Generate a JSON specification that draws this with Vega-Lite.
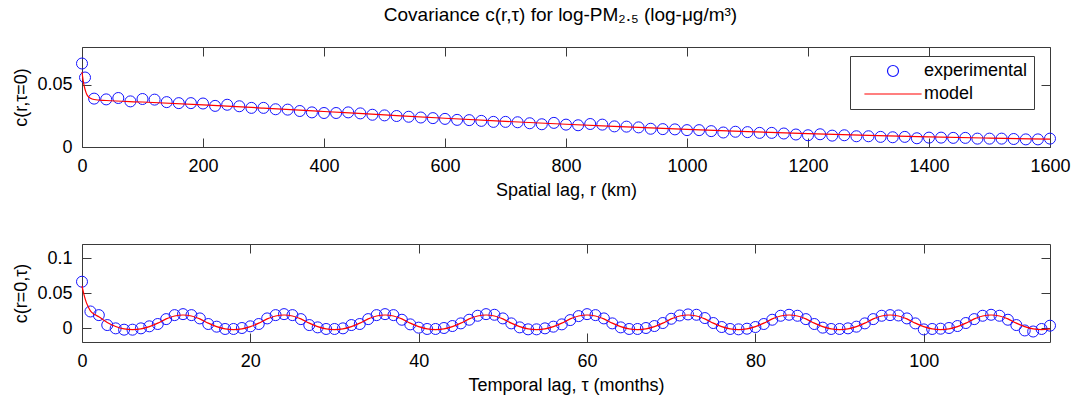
{
  "$schema": "https://vega.github.io/schema/vega-lite/v6.json",
  "padding": {"left": 12, "top": 6, "right": 20, "bottom": 5},
  "background": "white",
  "config": {
    "font": "Liberation Sans",
    "view": {"stroke": "#3a3a3a", "strokeWidth": 1},
    "axis": {"grid": false, "domain": false, "labelFlush": false, "tickColor": "#3a3a3a", "tickSize": -9, "labelFontSize": 18, "labelColor": "black", "titleFontSize": 18, "titleFontWeight": "normal", "titleColor": "black", "labelPadding": 19, "titlePadding": 6, "labelFont": "Liberation Sans", "titleFont": "Liberation Sans"},
    "legend": {"orient": "none", "legendX": 768, "legendY": 11, "strokeColor": "#3a3a3a", "fillColor": "white", "padding": 6, "symbolOffset": 28, "labelOffset": 22, "labelFontSize": 18, "labelFont": "Liberation Sans", "labelColor": "black", "rowPadding": 5, "symbolSize": 121, "symbolStrokeWidth": 1.2},
    "title": {"fontSize": 19, "fontWeight": "normal", "anchor": "middle", "offset": 21, "font": "Liberation Sans", "color": "black", "dx": 19},
    "concat": {"spacing": 43}
  },
  "title": "Covariance c(r,τ) for log-PM₂.₅ (log-μg/m³)",
  "datasets": {
    "spatial_experimental": [
      {"lag": 0, "cov": 0.0668, "series": "experimental"}, {"lag": 5, "cov": 0.0556, "series": "experimental"},
      {"lag": 20, "cov": 0.0387, "series": "experimental"}, {"lag": 40, "cov": 0.0381, "series": "experimental"},
      {"lag": 60, "cov": 0.0392, "series": "experimental"}, {"lag": 80, "cov": 0.0365, "series": "experimental"},
      {"lag": 100, "cov": 0.0384, "series": "experimental"}, {"lag": 120, "cov": 0.0379, "series": "experimental"},
      {"lag": 140, "cov": 0.0359, "series": "experimental"}, {"lag": 160, "cov": 0.0351, "series": "experimental"},
      {"lag": 180, "cov": 0.0351, "series": "experimental"}, {"lag": 200, "cov": 0.0348, "series": "experimental"},
      {"lag": 220, "cov": 0.0329, "series": "experimental"}, {"lag": 240, "cov": 0.0338, "series": "experimental"},
      {"lag": 260, "cov": 0.0326, "series": "experimental"}, {"lag": 280, "cov": 0.0313, "series": "experimental"},
      {"lag": 300, "cov": 0.0313, "series": "experimental"}, {"lag": 320, "cov": 0.0302, "series": "experimental"},
      {"lag": 340, "cov": 0.0299, "series": "experimental"}, {"lag": 360, "cov": 0.0288, "series": "experimental"},
      {"lag": 380, "cov": 0.0277, "series": "experimental"}, {"lag": 400, "cov": 0.0272, "series": "experimental"},
      {"lag": 420, "cov": 0.0272, "series": "experimental"}, {"lag": 440, "cov": 0.0277, "series": "experimental"},
      {"lag": 460, "cov": 0.0269, "series": "experimental"}, {"lag": 480, "cov": 0.0258, "series": "experimental"},
      {"lag": 500, "cov": 0.0253, "series": "experimental"}, {"lag": 520, "cov": 0.0248, "series": "experimental"},
      {"lag": 540, "cov": 0.0242, "series": "experimental"}, {"lag": 560, "cov": 0.0236, "series": "experimental"},
      {"lag": 580, "cov": 0.0231, "series": "experimental"}, {"lag": 600, "cov": 0.0225, "series": "experimental"},
      {"lag": 620, "cov": 0.0217, "series": "experimental"}, {"lag": 640, "cov": 0.0215, "series": "experimental"},
      {"lag": 660, "cov": 0.0209, "series": "experimental"}, {"lag": 680, "cov": 0.0201, "series": "experimental"},
      {"lag": 700, "cov": 0.0201, "series": "experimental"}, {"lag": 720, "cov": 0.0198, "series": "experimental"},
      {"lag": 740, "cov": 0.0190, "series": "experimental"}, {"lag": 760, "cov": 0.0182, "series": "experimental"},
      {"lag": 780, "cov": 0.0193, "series": "experimental"}, {"lag": 800, "cov": 0.0179, "series": "experimental"},
      {"lag": 820, "cov": 0.0174, "series": "experimental"}, {"lag": 840, "cov": 0.0184, "series": "experimental"},
      {"lag": 860, "cov": 0.0179, "series": "experimental"}, {"lag": 880, "cov": 0.0165, "series": "experimental"},
      {"lag": 900, "cov": 0.0163, "series": "experimental"}, {"lag": 920, "cov": 0.0157, "series": "experimental"},
      {"lag": 940, "cov": 0.0146, "series": "experimental"}, {"lag": 960, "cov": 0.0143, "series": "experimental"},
      {"lag": 980, "cov": 0.0141, "series": "experimental"}, {"lag": 1000, "cov": 0.0135, "series": "experimental"},
      {"lag": 1020, "cov": 0.0135, "series": "experimental"}, {"lag": 1040, "cov": 0.0127, "series": "experimental"},
      {"lag": 1060, "cov": 0.0116, "series": "experimental"}, {"lag": 1080, "cov": 0.0122, "series": "experimental"},
      {"lag": 1100, "cov": 0.0119, "series": "experimental"}, {"lag": 1120, "cov": 0.0113, "series": "experimental"},
      {"lag": 1140, "cov": 0.0113, "series": "experimental"}, {"lag": 1160, "cov": 0.0108, "series": "experimental"},
      {"lag": 1180, "cov": 0.0100, "series": "experimental"}, {"lag": 1200, "cov": 0.0094, "series": "experimental"},
      {"lag": 1220, "cov": 0.0102, "series": "experimental"}, {"lag": 1240, "cov": 0.0091, "series": "experimental"},
      {"lag": 1260, "cov": 0.0094, "series": "experimental"}, {"lag": 1280, "cov": 0.0086, "series": "experimental"},
      {"lag": 1300, "cov": 0.0086, "series": "experimental"}, {"lag": 1320, "cov": 0.0081, "series": "experimental"},
      {"lag": 1340, "cov": 0.0078, "series": "experimental"}, {"lag": 1360, "cov": 0.0081, "series": "experimental"},
      {"lag": 1380, "cov": 0.0070, "series": "experimental"}, {"lag": 1400, "cov": 0.0075, "series": "experimental"},
      {"lag": 1420, "cov": 0.0075, "series": "experimental"}, {"lag": 1440, "cov": 0.0073, "series": "experimental"},
      {"lag": 1460, "cov": 0.0073, "series": "experimental"}, {"lag": 1480, "cov": 0.0067, "series": "experimental"},
      {"lag": 1500, "cov": 0.0067, "series": "experimental"}, {"lag": 1520, "cov": 0.0067, "series": "experimental"},
      {"lag": 1540, "cov": 0.0064, "series": "experimental"}, {"lag": 1560, "cov": 0.0061, "series": "experimental"},
      {"lag": 1580, "cov": 0.0061, "series": "experimental"}, {"lag": 1600, "cov": 0.0067, "series": "experimental"}
    ],
    "spatial_model": [
      {"lag": 0, "cov": 0.060, "series": "model"}, {"lag": 2, "cov": 0.053, "series": "model"},
      {"lag": 4, "cov": 0.048, "series": "model"}, {"lag": 6, "cov": 0.0445, "series": "model"},
      {"lag": 8, "cov": 0.042, "series": "model"}, {"lag": 10, "cov": 0.0405, "series": "model"},
      {"lag": 14, "cov": 0.0390, "series": "model"}, {"lag": 20, "cov": 0.0380, "series": "model"},
      {"lag": 40, "cov": 0.0372, "series": "model"}, {"lag": 100, "cov": 0.0360, "series": "model"},
      {"lag": 200, "cov": 0.0337, "series": "model"}, {"lag": 300, "cov": 0.0311, "series": "model"},
      {"lag": 400, "cov": 0.0284, "series": "model"}, {"lag": 500, "cov": 0.0257, "series": "model"},
      {"lag": 600, "cov": 0.0230, "series": "model"}, {"lag": 700, "cov": 0.0205, "series": "model"},
      {"lag": 800, "cov": 0.0182, "series": "model"}, {"lag": 900, "cov": 0.0161, "series": "model"},
      {"lag": 1000, "cov": 0.0141, "series": "model"}, {"lag": 1100, "cov": 0.0123, "series": "model"},
      {"lag": 1200, "cov": 0.0107, "series": "model"}, {"lag": 1300, "cov": 0.0093, "series": "model"},
      {"lag": 1400, "cov": 0.0081, "series": "model"}, {"lag": 1500, "cov": 0.0071, "series": "model"},
      {"lag": 1600, "cov": 0.0063, "series": "model"}
    ],
    "temporal_experimental": [
      {"lag": 0, "cov": 0.0661, "series": "experimental"}, {"lag": 1, "cov": 0.0236, "series": "experimental"},
      {"lag": 2, "cov": 0.0184, "series": "experimental"}, {"lag": 3, "cov": 0.0042, "series": "experimental"},
      {"lag": 4, "cov": -0.0005, "series": "experimental"}, {"lag": 5, "cov": -0.0024, "series": "experimental"},
      {"lag": 6, "cov": -0.0024, "series": "experimental"}, {"lag": 7, "cov": -0.0005, "series": "experimental"},
      {"lag": 8, "cov": 0.0024, "series": "experimental"}, {"lag": 9, "cov": 0.0057, "series": "experimental"},
      {"lag": 10, "cov": 0.0127, "series": "experimental"}, {"lag": 11, "cov": 0.0184, "series": "experimental"},
      {"lag": 12, "cov": 0.0198, "series": "experimental"}, {"lag": 13, "cov": 0.0184, "series": "experimental"},
      {"lag": 14, "cov": 0.0137, "series": "experimental"}, {"lag": 15, "cov": 0.0057, "series": "experimental"},
      {"lag": 16, "cov": 0.0019, "series": "experimental"}, {"lag": 17, "cov": -0.0014, "series": "experimental"},
      {"lag": 18, "cov": -0.0014, "series": "experimental"}, {"lag": 19, "cov": 0.0000, "series": "experimental"},
      {"lag": 20, "cov": 0.0024, "series": "experimental"}, {"lag": 21, "cov": 0.0057, "series": "experimental"},
      {"lag": 22, "cov": 0.0137, "series": "experimental"}, {"lag": 23, "cov": 0.0184, "series": "experimental"},
      {"lag": 24, "cov": 0.0198, "series": "experimental"}, {"lag": 25, "cov": 0.0184, "series": "experimental"},
      {"lag": 26, "cov": 0.0127, "series": "experimental"}, {"lag": 27, "cov": 0.0042, "series": "experimental"},
      {"lag": 28, "cov": 0.0009, "series": "experimental"}, {"lag": 29, "cov": -0.0014, "series": "experimental"},
      {"lag": 30, "cov": -0.0014, "series": "experimental"}, {"lag": 31, "cov": -0.0005, "series": "experimental"},
      {"lag": 32, "cov": 0.0042, "series": "experimental"}, {"lag": 33, "cov": 0.0057, "series": "experimental"},
      {"lag": 34, "cov": 0.0127, "series": "experimental"}, {"lag": 35, "cov": 0.0184, "series": "experimental"},
      {"lag": 36, "cov": 0.0198, "series": "experimental"}, {"lag": 37, "cov": 0.0184, "series": "experimental"},
      {"lag": 38, "cov": 0.0118, "series": "experimental"}, {"lag": 39, "cov": 0.0052, "series": "experimental"},
      {"lag": 40, "cov": 0.0005, "series": "experimental"}, {"lag": 41, "cov": -0.0014, "series": "experimental"},
      {"lag": 42, "cov": -0.0014, "series": "experimental"}, {"lag": 43, "cov": 0.0000, "series": "experimental"},
      {"lag": 44, "cov": 0.0028, "series": "experimental"}, {"lag": 45, "cov": 0.0066, "series": "experimental"},
      {"lag": 46, "cov": 0.0118, "series": "experimental"}, {"lag": 47, "cov": 0.0175, "series": "experimental"},
      {"lag": 48, "cov": 0.0198, "series": "experimental"}, {"lag": 49, "cov": 0.0189, "series": "experimental"},
      {"lag": 50, "cov": 0.0137, "series": "experimental"}, {"lag": 51, "cov": 0.0066, "series": "experimental"},
      {"lag": 52, "cov": 0.0009, "series": "experimental"}, {"lag": 53, "cov": -0.0019, "series": "experimental"},
      {"lag": 54, "cov": -0.0019, "series": "experimental"}, {"lag": 55, "cov": -0.0005, "series": "experimental"},
      {"lag": 56, "cov": 0.0019, "series": "experimental"}, {"lag": 57, "cov": 0.0052, "series": "experimental"},
      {"lag": 58, "cov": 0.0113, "series": "experimental"}, {"lag": 59, "cov": 0.0170, "series": "experimental"},
      {"lag": 60, "cov": 0.0198, "series": "experimental"}, {"lag": 61, "cov": 0.0184, "series": "experimental"},
      {"lag": 62, "cov": 0.0137, "series": "experimental"}, {"lag": 63, "cov": 0.0066, "series": "experimental"},
      {"lag": 64, "cov": 0.0009, "series": "experimental"}, {"lag": 65, "cov": -0.0014, "series": "experimental"},
      {"lag": 66, "cov": -0.0014, "series": "experimental"}, {"lag": 67, "cov": 0.0000, "series": "experimental"},
      {"lag": 68, "cov": 0.0028, "series": "experimental"}, {"lag": 69, "cov": 0.0071, "series": "experimental"},
      {"lag": 70, "cov": 0.0132, "series": "experimental"}, {"lag": 71, "cov": 0.0179, "series": "experimental"},
      {"lag": 72, "cov": 0.0194, "series": "experimental"}, {"lag": 73, "cov": 0.0189, "series": "experimental"},
      {"lag": 74, "cov": 0.0142, "series": "experimental"}, {"lag": 75, "cov": 0.0071, "series": "experimental"},
      {"lag": 76, "cov": 0.0014, "series": "experimental"}, {"lag": 77, "cov": -0.0014, "series": "experimental"},
      {"lag": 78, "cov": -0.0019, "series": "experimental"}, {"lag": 79, "cov": -0.0010, "series": "experimental"},
      {"lag": 80, "cov": 0.0014, "series": "experimental"}, {"lag": 81, "cov": 0.0057, "series": "experimental"},
      {"lag": 82, "cov": 0.0118, "series": "experimental"}, {"lag": 83, "cov": 0.0175, "series": "experimental"},
      {"lag": 84, "cov": 0.0189, "series": "experimental"}, {"lag": 85, "cov": 0.0175, "series": "experimental"},
      {"lag": 86, "cov": 0.0127, "series": "experimental"}, {"lag": 87, "cov": 0.0057, "series": "experimental"},
      {"lag": 88, "cov": 0.0005, "series": "experimental"}, {"lag": 89, "cov": -0.0014, "series": "experimental"},
      {"lag": 90, "cov": -0.0014, "series": "experimental"}, {"lag": 91, "cov": -0.0005, "series": "experimental"},
      {"lag": 92, "cov": 0.0019, "series": "experimental"}, {"lag": 93, "cov": 0.0066, "series": "experimental"},
      {"lag": 94, "cov": 0.0127, "series": "experimental"}, {"lag": 95, "cov": 0.0175, "series": "experimental"},
      {"lag": 96, "cov": 0.0184, "series": "experimental"}, {"lag": 97, "cov": 0.0179, "series": "experimental"},
      {"lag": 98, "cov": 0.0137, "series": "experimental"}, {"lag": 99, "cov": 0.0066, "series": "experimental"},
      {"lag": 100, "cov": -0.0020, "series": "experimental"}, {"lag": 101, "cov": -0.0014, "series": "experimental"},
      {"lag": 102, "cov": -0.0010, "series": "experimental"}, {"lag": 103, "cov": 0.0000, "series": "experimental"},
      {"lag": 104, "cov": 0.0028, "series": "experimental"}, {"lag": 105, "cov": 0.0071, "series": "experimental"},
      {"lag": 106, "cov": 0.0127, "series": "experimental"}, {"lag": 107, "cov": 0.0175, "series": "experimental"},
      {"lag": 108, "cov": 0.0189, "series": "experimental"}, {"lag": 109, "cov": 0.0175, "series": "experimental"},
      {"lag": 110, "cov": 0.0118, "series": "experimental"}, {"lag": 111, "cov": 0.0042, "series": "experimental"},
      {"lag": 112, "cov": -0.0035, "series": "experimental"}, {"lag": 113, "cov": -0.0050, "series": "experimental"},
      {"lag": 114, "cov": -0.0014, "series": "experimental"}, {"lag": 115, "cov": 0.0033, "series": "experimental"}
    ],
    "temporal_model": [
      {"lag": 0, "cov": 0.060, "series": "model"}, {"lag": 0.25, "cov": 0.047, "series": "model"},
      {"lag": 0.5, "cov": 0.037, "series": "model"}, {"lag": 0.75, "cov": 0.030, "series": "model"},
      {"lag": 1, "cov": 0.0245, "series": "model"}, {"lag": 1.5, "cov": 0.0195, "series": "model"},
      {"lag": 2, "cov": 0.0160, "series": "model"}, {"lag": 3, "cov": 0.0080, "series": "model"},
      {"lag": 4, "cov": 0.0022, "series": "model"}, {"lag": 5, "cov": -0.0012, "series": "model"},
      {"lag": 6, "cov": -0.0022, "series": "model"}, {"lag": 7, "cov": -0.0012, "series": "model"},
      {"lag": 8, "cov": 0.0020, "series": "model"}, {"lag": 9, "cov": 0.0070, "series": "model"},
      {"lag": 10, "cov": 0.0130, "series": "model"}, {"lag": 11, "cov": 0.0172, "series": "model"},
      {"lag": 12, "cov": 0.0186, "series": "model"}, {"lag": 13, "cov": 0.0172, "series": "model"},
      {"lag": 14, "cov": 0.0130, "series": "model"}, {"lag": 15, "cov": 0.0070, "series": "model"},
      {"lag": 16, "cov": 0.0020, "series": "model"}, {"lag": 17, "cov": -0.0012, "series": "model"},
      {"lag": 18, "cov": -0.0022, "series": "model"}, {"lag": 19, "cov": -0.0012, "series": "model"},
      {"lag": 20, "cov": 0.0020, "series": "model"}, {"lag": 21, "cov": 0.0070, "series": "model"},
      {"lag": 22, "cov": 0.0130, "series": "model"}, {"lag": 23, "cov": 0.0172, "series": "model"},
      {"lag": 24, "cov": 0.0186, "series": "model"}, {"lag": 25, "cov": 0.0172, "series": "model"},
      {"lag": 26, "cov": 0.0130, "series": "model"}, {"lag": 27, "cov": 0.0070, "series": "model"},
      {"lag": 28, "cov": 0.0020, "series": "model"}, {"lag": 29, "cov": -0.0012, "series": "model"},
      {"lag": 30, "cov": -0.0022, "series": "model"}, {"lag": 31, "cov": -0.0012, "series": "model"},
      {"lag": 32, "cov": 0.0020, "series": "model"}, {"lag": 33, "cov": 0.0070, "series": "model"},
      {"lag": 34, "cov": 0.0130, "series": "model"}, {"lag": 35, "cov": 0.0172, "series": "model"},
      {"lag": 36, "cov": 0.0186, "series": "model"}, {"lag": 37, "cov": 0.0172, "series": "model"},
      {"lag": 38, "cov": 0.0130, "series": "model"}, {"lag": 39, "cov": 0.0070, "series": "model"},
      {"lag": 40, "cov": 0.0020, "series": "model"}, {"lag": 41, "cov": -0.0012, "series": "model"},
      {"lag": 42, "cov": -0.0022, "series": "model"}, {"lag": 43, "cov": -0.0012, "series": "model"},
      {"lag": 44, "cov": 0.0020, "series": "model"}, {"lag": 45, "cov": 0.0070, "series": "model"},
      {"lag": 46, "cov": 0.0130, "series": "model"}, {"lag": 47, "cov": 0.0172, "series": "model"},
      {"lag": 48, "cov": 0.0186, "series": "model"}, {"lag": 49, "cov": 0.0172, "series": "model"},
      {"lag": 50, "cov": 0.0130, "series": "model"}, {"lag": 51, "cov": 0.0070, "series": "model"},
      {"lag": 52, "cov": 0.0020, "series": "model"}, {"lag": 53, "cov": -0.0012, "series": "model"},
      {"lag": 54, "cov": -0.0022, "series": "model"}, {"lag": 55, "cov": -0.0012, "series": "model"},
      {"lag": 56, "cov": 0.0020, "series": "model"}, {"lag": 57, "cov": 0.0070, "series": "model"},
      {"lag": 58, "cov": 0.0130, "series": "model"}, {"lag": 59, "cov": 0.0172, "series": "model"},
      {"lag": 60, "cov": 0.0186, "series": "model"}, {"lag": 61, "cov": 0.0172, "series": "model"},
      {"lag": 62, "cov": 0.0130, "series": "model"}, {"lag": 63, "cov": 0.0070, "series": "model"},
      {"lag": 64, "cov": 0.0020, "series": "model"}, {"lag": 65, "cov": -0.0012, "series": "model"},
      {"lag": 66, "cov": -0.0022, "series": "model"}, {"lag": 67, "cov": -0.0012, "series": "model"},
      {"lag": 68, "cov": 0.0020, "series": "model"}, {"lag": 69, "cov": 0.0070, "series": "model"},
      {"lag": 70, "cov": 0.0130, "series": "model"}, {"lag": 71, "cov": 0.0172, "series": "model"},
      {"lag": 72, "cov": 0.0186, "series": "model"}, {"lag": 73, "cov": 0.0172, "series": "model"},
      {"lag": 74, "cov": 0.0130, "series": "model"}, {"lag": 75, "cov": 0.0070, "series": "model"},
      {"lag": 76, "cov": 0.0020, "series": "model"}, {"lag": 77, "cov": -0.0012, "series": "model"},
      {"lag": 78, "cov": -0.0022, "series": "model"}, {"lag": 79, "cov": -0.0012, "series": "model"},
      {"lag": 80, "cov": 0.0020, "series": "model"}, {"lag": 81, "cov": 0.0070, "series": "model"},
      {"lag": 82, "cov": 0.0130, "series": "model"}, {"lag": 83, "cov": 0.0172, "series": "model"},
      {"lag": 84, "cov": 0.0186, "series": "model"}, {"lag": 85, "cov": 0.0172, "series": "model"},
      {"lag": 86, "cov": 0.0130, "series": "model"}, {"lag": 87, "cov": 0.0070, "series": "model"},
      {"lag": 88, "cov": 0.0020, "series": "model"}, {"lag": 89, "cov": -0.0012, "series": "model"},
      {"lag": 90, "cov": -0.0022, "series": "model"}, {"lag": 91, "cov": -0.0012, "series": "model"},
      {"lag": 92, "cov": 0.0020, "series": "model"}, {"lag": 93, "cov": 0.0070, "series": "model"},
      {"lag": 94, "cov": 0.0130, "series": "model"}, {"lag": 95, "cov": 0.0172, "series": "model"},
      {"lag": 96, "cov": 0.0186, "series": "model"}, {"lag": 97, "cov": 0.0172, "series": "model"},
      {"lag": 98, "cov": 0.0130, "series": "model"}, {"lag": 99, "cov": 0.0070, "series": "model"},
      {"lag": 100, "cov": 0.0020, "series": "model"}, {"lag": 101, "cov": -0.0012, "series": "model"},
      {"lag": 102, "cov": -0.0022, "series": "model"}, {"lag": 103, "cov": -0.0012, "series": "model"},
      {"lag": 104, "cov": 0.0020, "series": "model"}, {"lag": 105, "cov": 0.0070, "series": "model"},
      {"lag": 106, "cov": 0.0130, "series": "model"}, {"lag": 107, "cov": 0.0172, "series": "model"},
      {"lag": 108, "cov": 0.0186, "series": "model"}, {"lag": 109, "cov": 0.0172, "series": "model"},
      {"lag": 110, "cov": 0.0130, "series": "model"}, {"lag": 111, "cov": 0.0070, "series": "model"},
      {"lag": 112, "cov": 0.0020, "series": "model"}, {"lag": 113, "cov": -0.0012, "series": "model"},
      {"lag": 114, "cov": -0.0022, "series": "model"}, {"lag": 115, "cov": -0.0012, "series": "model"}
    ]
  },
  "vconcat": [
    {
      "width": 968,
      "height": 100,
      "layer": [
        {
          "data": {"name": "spatial_experimental"},
          "mark": {"type": "point", "filled": false, "size": 121, "strokeWidth": 1, "opacity": 1},
          "encoding": {
            "x": {"field": "lag", "type": "quantitative", "scale": {"domain": [0, 1600], "nice": false, "zero": false},
                  "axis": {"orient": "bottom", "values": [0, 200, 400, 600, 800, 1000, 1200, 1400, 1600], "format": "d", "title": "Spatial lag, r (km)"}},
            "y": {"field": "cov", "type": "quantitative", "scale": {"domain": [0, 0.08], "nice": false},
                  "axis": {"orient": "left", "values": [0, 0.05], "format": ".2~f", "title": "c(r,τ=0)"}},
            "color": {"field": "series", "type": "nominal", "scale": {"domain": ["experimental", "model"], "range": ["#1414ff", "#ff0000"]}, "legend": {"title": null}},
            "shape": {"field": "series", "type": "nominal", "scale": {"domain": ["experimental", "model"], "range": ["circle", "M-5.2,0H5.2"]}, "legend": {"title": null}}
          }
        },
        {
          "data": {"name": "spatial_model"},
          "mark": {"type": "line", "strokeWidth": 1.2, "interpolate": "monotone"},
          "encoding": {
            "x": {"field": "lag", "type": "quantitative", "axis": {"orient": "top", "values": [0, 200, 400, 600, 800, 1000, 1200, 1400, 1600], "labels": false, "title": null}},
            "y": {"field": "cov", "type": "quantitative", "axis": {"orient": "right", "values": [0, 0.05], "labels": false, "title": null}},
            "color": {"field": "series", "type": "nominal", "legend": {"title": null}}
          }
        }
      ],
      "resolve": {"axis": {"x": "independent", "y": "independent"}}
    },
    {
      "width": 968,
      "height": 98,
      "layer": [
        {
          "data": {"name": "temporal_experimental"},
          "mark": {"type": "point", "filled": false, "size": 121, "strokeWidth": 1, "opacity": 1},
          "encoding": {
            "x": {"field": "lag", "type": "quantitative", "scale": {"domain": [0, 115], "nice": false, "zero": false},
                  "axis": {"orient": "bottom", "values": [0, 20, 40, 60, 80, 100], "format": "d", "title": "Temporal lag, τ (months)"}},
            "y": {"field": "cov", "type": "quantitative", "scale": {"domain": [-0.02, 0.12], "nice": false},
                  "axis": {"orient": "left", "values": [0, 0.05, 0.1], "format": ".2~f", "title": "c(r=0,τ)"}},
            "color": {"field": "series", "type": "nominal", "scale": {"domain": ["experimental", "model"], "range": ["#1414ff", "#ff0000"]}, "legend": {"title": null, "legendY": 9}},
            "shape": {"field": "series", "type": "nominal", "scale": {"domain": ["experimental", "model"], "range": ["circle", "M-5.2,0H5.2"]}, "legend": {"title": null, "legendY": 9}}
          }
        },
        {
          "data": {"name": "temporal_model"},
          "mark": {"type": "line", "strokeWidth": 1.2, "interpolate": "monotone"},
          "encoding": {
            "x": {"field": "lag", "type": "quantitative", "axis": {"orient": "top", "values": [0, 20, 40, 60, 80, 100], "labels": false, "title": null}},
            "y": {"field": "cov", "type": "quantitative", "axis": {"orient": "right", "values": [0, 0.05, 0.1], "labels": false, "title": null}},
            "color": {"field": "series", "type": "nominal", "legend": {"title": null, "legendY": 9}}
          }
        }
      ],
      "resolve": {"axis": {"x": "independent", "y": "independent"}}
    }
  ]
}
